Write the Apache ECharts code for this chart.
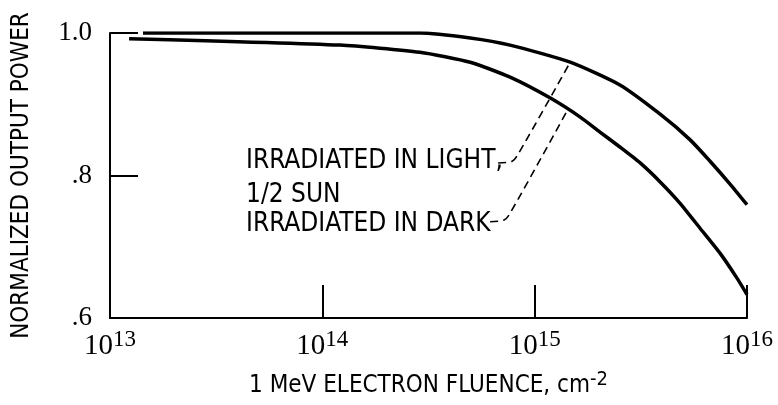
<!DOCTYPE html>
<html>
<head>
<meta charset="utf-8">
<script src="https://cdn.jsdelivr.net/npm/echarts@6/dist/echarts.min.js"></script>
<style>
  html, body { margin: 0; padding: 0; background: #fff; }
  #main { width: 778px; height: 405px; }
</style>
</head>
<body>
<div id="main"></div>
<script>
// 1 MeV electron fluence (cm^-2) and normalized output power
const lightFluence = [1.43e13, 1.09e14, 2.88e14, 4.97e14, 7.66e14, 1.47e15, 2.52e15, 3.90e15, 5.40e15, 6.70e15, 8.32e15, 1.0e16]
const lightPower = [1.0, 1.0, 1.0, 0.993, 0.983, 0.959, 0.927, 0.886, 0.850, 0.820, 0.788, 0.759]

const darkFluence = [1.23e13, 1.21e14, 2.88e14, 4.97e14, 7.66e14, 1.18e15, 1.64e15, 2.03e15, 2.52e15, 3.13e15, 3.90e15, 4.84e15, 6.01e15, 7.46e15, 8.97e15, 1.0e16]
const darkPower = [0.992, 0.983, 0.973, 0.959, 0.938, 0.909, 0.882, 0.861, 0.840, 0.818, 0.791, 0.761, 0.726, 0.691, 0.656, 0.633]

// dashed leader lines from the labels to the curves
const lightLeader = [[6.73e14, 0.8175], [7.83e14, 0.820], [8.36e14, 0.830], [1.47e15, 0.959]]
const darkLeader = [[6.17e14, 0.735], [7.18e14, 0.7375], [7.66e14, 0.747], [1.435e15, 0.893]]

const yTicks = { '1': '1.0', '0.8': '.8', '0.6': '.6' }
const labels = ['IRRADIATED IN LIGHT,', '1/2 SUN', 'IRRADIATED IN DARK']

const narrow = '"DejaVu Sans Condensed", "Liberation Sans Narrow", sans-serif'
const serif = '"Liberation Serif", "DejaVu Serif", serif'

const pairs = (xs, ys) => xs.map((x, i) => [x, ys[i]])

const chart = echarts.init(document.getElementById('main'))
chart.setOption({
  backgroundColor: '#fff',
  animation: false,
  grid: { left: 110, right: 31, top: 33, bottom: 87, containLabel: false, outerBoundsMode: 'none' },
  xAxis: {
    type: 'log',
    logBase: 10,
    min: 1e13,
    max: 1e16,
    name: '1 MeV ELECTRON FLUENCE, cm{sup|-2}',
    nameLocation: 'middle',
    nameGap: 52,
    nameTextStyle: {
      color: '#000',
      fontFamily: narrow,
      fontSize: 24,
      rich: {
        sup: { fontFamily: narrow, fontSize: 20, color: '#000', padding: [0, 0, 12, 0] }
      }
    },
    axisLine: { lineStyle: { color: '#000', width: 2 } },
    axisTick: { inside: true, length: 33, lineStyle: { color: '#000', width: 2 } },
    minorTick: { show: false },
    splitLine: { show: false },
    axisLabel: {
      margin: 10,
      formatter: v => '{b|10}{s|' + Math.round(Math.log10(v)) + '}',
      rich: {
        b: { fontFamily: serif, fontSize: 29, color: '#000' },
        s: { fontFamily: serif, fontSize: 23, color: '#000', padding: [0, 0, 13, 0] }
      }
    }
  },
  yAxis: {
    type: 'value',
    min: 0.6,
    max: 1.0,
    interval: 0.2,
    name: 'NORMALIZED OUTPUT POWER',
    nameLocation: 'middle',
    nameRotate: 90,
    nameGap: 76,
    nameTextStyle: { color: '#000', fontFamily: narrow, fontSize: 24 },
    axisLine: { show: true, lineStyle: { color: '#000', width: 2 } },
    axisTick: { show: true, inside: true, length: 28, lineStyle: { color: '#000', width: 2 } },
    splitLine: { show: false },
    axisLabel: {
      margin: 18,
      color: '#000',
      fontFamily: serif,
      fontSize: 27,
      formatter: v => yTicks[String(Math.round(v * 10) / 10)] || ''
    }
  },
  graphic: labels.map((t, i) => ({
    type: 'text',
    left: 246,
    top: [148, 182, 211][i],
    style: { text: t, fill: '#000', font: '26px ' + narrow }
  })),
  series: [
    {
      type: 'line',
      data: pairs(lightFluence, lightPower),
      smooth: 0.2,
      showSymbol: false,
      lineStyle: { color: '#000', width: 3.5 }
    },
    {
      type: 'line',
      data: pairs(darkFluence, darkPower),
      smooth: 0.2,
      showSymbol: false,
      lineStyle: { color: '#000', width: 3.5 }
    },
    {
      type: 'line',
      data: lightLeader,
      smooth: 0.3,
      showSymbol: false,
      lineStyle: { color: '#000', width: 1.6, type: [8, 5] }
    },
    {
      type: 'line',
      data: darkLeader,
      smooth: 0.3,
      showSymbol: false,
      lineStyle: { color: '#000', width: 1.6, type: [8, 5] }
    }
  ]
})
</script>
</body>
</html>
